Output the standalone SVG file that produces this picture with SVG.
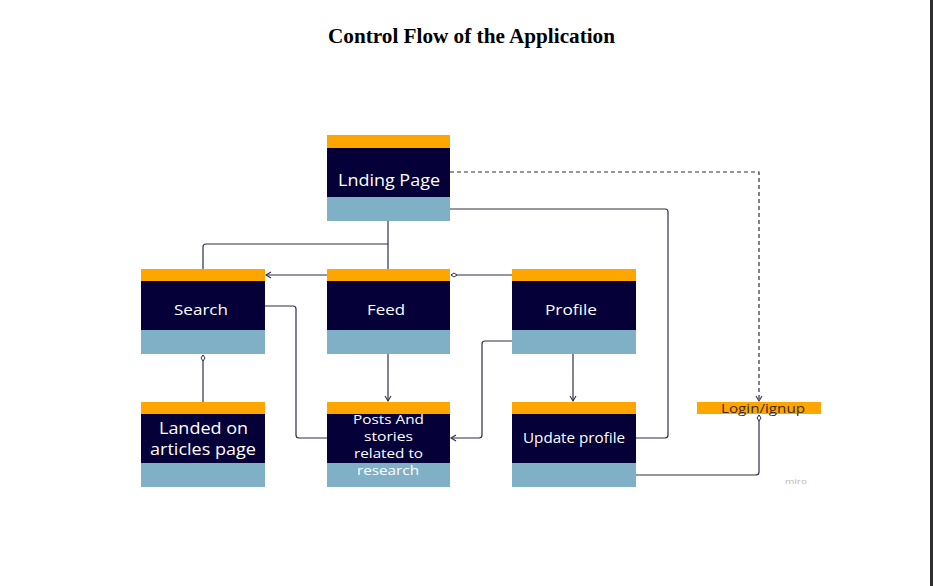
<svg xmlns="http://www.w3.org/2000/svg" width="933" height="586" viewBox="0 0 933 586">
<style>
.top{fill:#ffa500}
.mid{fill:#050038}
.bot{fill:#7fb0c6}
.t{font-family:"Open Sans","Noto Sans",sans-serif;fill:#ffffff;text-anchor:middle}
.c{fill:none;stroke:#2e2e48;stroke-width:1.2}
.d{fill:none;stroke:#2e2e48;stroke-width:1.2;stroke-dasharray:4 3}
</style>
<defs>
<marker id="arr" markerWidth="8" markerHeight="8" refX="6" refY="4" orient="auto" markerUnits="userSpaceOnUse">
<path d="M1,1 L6,4 L1,7" fill="none" stroke="#2e2e48" stroke-width="1.1"/>
</marker>
<marker id="dia" markerWidth="10" markerHeight="8" refX="7" refY="4" orient="auto" markerUnits="userSpaceOnUse">
<path d="M1,4 L4,2 L7,4 L4,6 Z" fill="#ffffff" stroke="#2e2e48" stroke-width="1"/>
</marker>
</defs>
<rect width="933" height="586" fill="#ffffff"/>
<rect x="930" y="0" width="3" height="586" fill="#2f2f2f"/>
<text x="471.5" y="43" font-family="Liberation Serif,serif" font-weight="bold" font-size="21" text-anchor="middle" fill="#000" textLength="287" lengthAdjust="spacingAndGlyphs">Control Flow of the Application</text>

<g id="connectors">
<path class="c" d="M388,221 V269"/>
<path class="c" d="M388,244 H206 Q203,244 203,247 V269"/>
<path class="c" d="M327,275 H266" marker-end="url(#arr)"/>
<path class="c" d="M512,275 H451" marker-end="url(#dia)"/>
<path class="c" d="M265,306 H293 Q296,306 296,309 V435 Q296,438 299,438 H327"/>
<path class="c" d="M203,402 V355" marker-end="url(#dia)"/>
<path class="c" d="M388,354 V401" marker-end="url(#arr)"/>
<path class="c" d="M512,341 H485 Q482,341 482,344 V435 Q482,438 479,438 H451" marker-end="url(#arr)"/>
<path class="c" d="M573,354 V401" marker-end="url(#arr)"/>
<path class="d" d="M450,172 H759 V401" marker-end="url(#arr)"/>
<path class="c" d="M450,209 H665 Q668,209 668,212 V435 Q668,438 665,438 H636"/>
<path class="c" d="M636,475 H756 Q759,475 759,472 V415" marker-end="url(#dia)"/>
</g>

<g id="landing">
<rect class="top" x="327" y="135" width="123" height="13"/>
<rect class="mid" x="327" y="148" width="123" height="49"/>
<rect class="bot" x="327" y="197" width="123" height="24"/>
<text class="t" x="389" y="186" font-size="15.5" textLength="102" lengthAdjust="spacingAndGlyphs">Lnding Page</text>
</g>
<g id="search">
<rect class="top" x="141" y="269" width="124" height="12"/>
<rect class="mid" x="141" y="281" width="124" height="49"/>
<rect class="bot" x="141" y="330" width="124" height="24"/>
<text class="t" x="201" y="315" font-size="15" textLength="54" lengthAdjust="spacingAndGlyphs">Search</text>
</g>
<g id="feed">
<rect class="top" x="327" y="269" width="123" height="12"/>
<rect class="mid" x="327" y="281" width="123" height="49"/>
<rect class="bot" x="327" y="330" width="123" height="24"/>
<text class="t" x="386" y="315" font-size="15" textLength="38" lengthAdjust="spacingAndGlyphs">Feed</text>
</g>
<g id="profile">
<rect class="top" x="512" y="269" width="124" height="12"/>
<rect class="mid" x="512" y="281" width="124" height="49"/>
<rect class="bot" x="512" y="330" width="124" height="24"/>
<text class="t" x="571" y="315" font-size="15" textLength="52" lengthAdjust="spacingAndGlyphs">Profile</text>
</g>
<g id="landed">
<rect class="top" x="141" y="402" width="124" height="12"/>
<rect class="mid" x="141" y="414" width="124" height="49"/>
<rect class="bot" x="141" y="463" width="124" height="24"/>
<text class="t" x="203.5" y="434" font-size="15.5" textLength="89" lengthAdjust="spacingAndGlyphs">Landed on</text>
<text class="t" x="203" y="455" font-size="15.5" textLength="106" lengthAdjust="spacingAndGlyphs">articles page</text>
</g>
<g id="posts">
<rect class="top" x="327" y="402" width="123" height="12"/>
<rect class="mid" x="327" y="414" width="123" height="49"/>
<rect class="bot" x="327" y="463" width="123" height="24"/>
<text class="t" x="388.5" y="424" font-size="13" textLength="71" lengthAdjust="spacingAndGlyphs">Posts And</text>
<text class="t" x="388.5" y="441" font-size="13" textLength="49" lengthAdjust="spacingAndGlyphs">stories</text>
<text class="t" x="388.5" y="458" font-size="13" textLength="69" lengthAdjust="spacingAndGlyphs">related to</text>
<text class="t" x="388" y="475" font-size="13" textLength="62" lengthAdjust="spacingAndGlyphs">research</text>
</g>
<g id="update">
<rect class="top" x="512" y="402" width="124" height="12"/>
<rect class="mid" x="512" y="414" width="124" height="49"/>
<rect class="bot" x="512" y="463" width="124" height="24"/>
<text class="t" x="574" y="443" font-size="14" textLength="102" lengthAdjust="spacingAndGlyphs">Update profile</text>
</g>
<g id="login">
<rect class="top" x="697" y="402" width="124" height="12"/>
<text class="t" x="763" y="413" font-size="13" style="fill:#3d2a1a" textLength="84" lengthAdjust="spacingAndGlyphs">Login/ignup</text>
</g>
<text x="796" y="484" font-family="Open Sans,sans-serif" font-size="8" fill="#b8b8b8" text-anchor="middle" textLength="22" lengthAdjust="spacingAndGlyphs">miro</text>
</svg>
